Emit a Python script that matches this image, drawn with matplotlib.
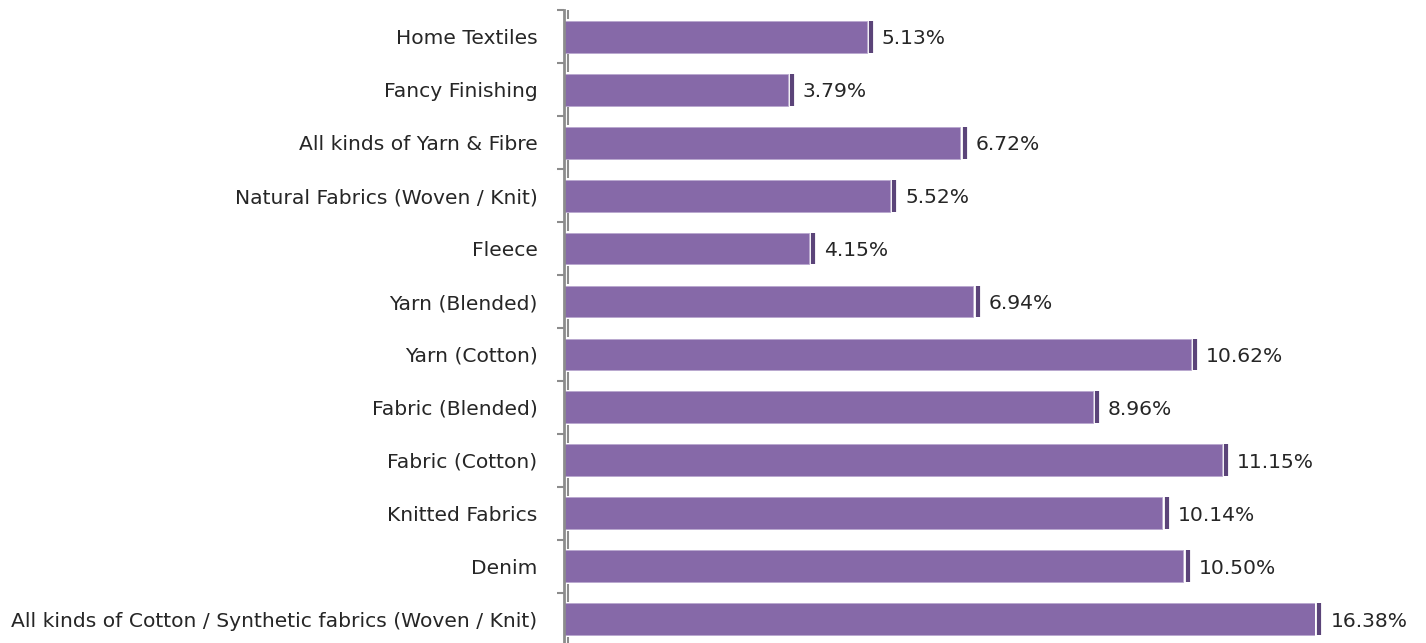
"""
Bar chart of product category shares (horizontal bars, percent labels)
"""

import matplotlib
matplotlib.use('Agg')
import matplotlib.pyplot as plt
import numpy as np

# Data (top to bottom)
categories = [
    'Home Textiles',
    'Fancy Finishing',
    'All kinds of Yarn & Fibre',
    'Natural Fabrics (Woven / Knit)',
    'Fleece',
    'Yarn (Blended)',
    'Yarn (Cotton)',
    'Fabric (Blended)',
    'Fabric (Cotton)',
    'Knitted Fabrics',
    'Denim',
    'All kinds of Cotton / Synthetic fabrics (Woven / Knit)',
]
shares = [5.13, 3.79, 6.72, 5.52, 4.15, 6.94, 10.62, 8.96, 11.15, 10.14, 10.50, 16.38]
x_max = 12.73  # axis limit of the original chart, the longest bar runs past it

bar_color = '#8669a8'
cap_color = '#5b4479'
axis_color = '#8c8c8c'
text_color = '#262626'
font_size = 14.6

plt.rcParams['font.family'] = ['DejaVu Sans']

fig = plt.figure(figsize=(14.26, 6.43), dpi=100)
ax = fig.add_axes([0.3955, -0.0039, 0.5267, 0.9876])

y = np.arange(len(categories))
shown = np.minimum(shares, x_max)

ax.barh(y, shown, height=0.6, color=bar_color, edgecolor='#b9a8cf', linewidth=0.6)

# dark cap a few pixels past each bar end
cap_gap = 0.075
ax.vlines(shown + cap_gap, y - 0.3, y + 0.3, color=cap_color, linewidth=3, clip_on=False)

# value labels
for yi, xi, v in zip(y, shown, shares):
    ax.text(xi + 0.26, yi, f'{v:.2f}%', va='center_baseline', ha='left', fontsize=font_size,
            color=text_color, clip_on=False)

ax.set_xlim(0, x_max)
ax.set_ylim(len(categories) - 0.5, -0.5)

# category boundaries as major ticks, names on minor ticks
bounds = np.arange(len(categories) + 1) - 0.5
ax.set_yticks(bounds)
ax.set_yticklabels([])
ax.set_yticks(y, minor=True)
ax.set_yticklabels(categories, minor=True, fontsize=font_size, color=text_color)
ax.tick_params(axis='y', which='major', length=5, width=1.5, color=axis_color, direction='out')
ax.tick_params(axis='y', which='minor', length=0, pad=19)

# small marks in the gaps next to the axis
ax.vlines(np.full(len(bounds), 0.075), bounds - 0.17, bounds + 0.17,
          color=axis_color, linewidth=1.5)

ax.set_xticks([])
for side in ['top', 'right', 'bottom']:
    ax.spines[side].set_visible(False)
ax.spines['left'].set_color(axis_color)
ax.spines['left'].set_linewidth(2)

plt.savefig('out.png', dpi=100)
